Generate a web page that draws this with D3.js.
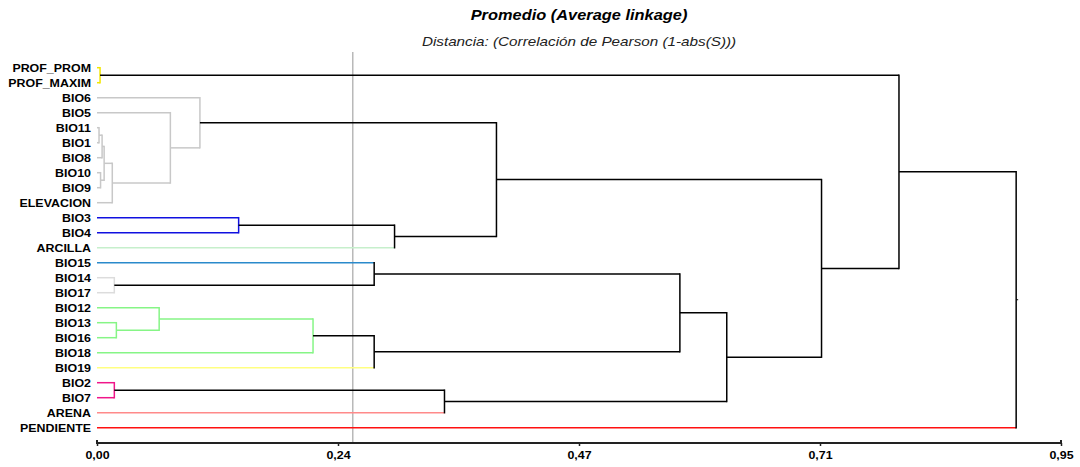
<!DOCTYPE html>
<html>
<head>
<meta charset="utf-8">
<script src="https://cdn.jsdelivr.net/npm/d3@7"></script>
<style>
  html, body { margin: 0; padding: 0; background: #fff; }
  svg { display: block; }
  text { font-family: "Liberation Sans", Arial, sans-serif; fill: #000; }
</style>
</head>
<body>
<svg id="chart" width="1080" height="467"></svg>
<script>
// Variables (leaves) in dendrogram order, top to bottom
const leaves = [
  "PROF_PROM", "PROF_MAXIM", "BIO6", "BIO5", "BIO11", "BIO1", "BIO8", "BIO10",
  "BIO9", "ELEVACION", "BIO3", "BIO4", "ARCILLA", "BIO15", "BIO14", "BIO17",
  "BIO12", "BIO13", "BIO16", "BIO18", "BIO19", "BIO2", "BIO7", "ARENA", "PENDIENTE"
];

// Agglomeration steps: [child A, child B, distance]; ids >= leaves.length are earlier steps
const mergeA = [4, 0, 7, 25, 28, 29, 14, 21, 17, 16, 3, 2, 10, 34, 13, 38, 37, 32, 36, 39, 44, 43, 26, 47];
const mergeB = [5, 1, 8, 6, 27, 9, 15, 22, 18, 33, 30, 35, 11, 19, 31, 20, 12, 23, 41, 40, 42, 45, 46, 24];
const mergeHeight = [0.002, 0.003, 0.0035, 0.005, 0.007, 0.015, 0.017, 0.017, 0.019, 0.061,
  0.072, 0.101, 0.139, 0.212, 0.272, 0.272, 0.292, 0.341, 0.392, 0.572, 0.618, 0.711, 0.787, 0.902];

// Colour of the group each leaf falls into below the cut level
const leafColors = [
  "#f2e600", "#f2e600", "#c8c8c8", "#c8c8c8", "#c8c8c8", "#c8c8c8", "#c8c8c8", "#c8c8c8",
  "#c8c8c8", "#c8c8c8", "#1010e0", "#1010e0", "#c6efcc", "#2a8acb", "#dcdcdc", "#dcdcdc",
  "#86f586", "#86f586", "#86f586", "#86f586", "#ffff80", "#f0168a", "#f0168a", "#ff8a8a", "#ff1010"
];

const cutLevel = 0.251;
const tickValues = [0, 0.2365, 0.473, 0.7095, 0.946];
const tickLabels = ["0,00", "0,24", "0,47", "0,71", "0,95"];

const titleText = "Promedio (Average linkage)";
const subtitleText = "Distancia: (Correlación de Pearson (1-abs(S)))";

// ---- layout
const svg = d3.select("#chart");
const TEXT_STRETCH = 1.13;

const x = d3.scaleLinear().domain([0, 0.946]).range([97, 1061]);
const y = d3.scalePoint().domain(d3.range(leaves.length)).range([67.7, 427.7]);

// Build node table: leaves first, then merges
const nodes = leaves.map((name, i) => ({ id: i, y: y(i), h: 0, leafs: [i] }));
mergeA.forEach((a, k) => {
  const A = nodes[a], B = nodes[mergeB[k]];
  nodes.push({ id: nodes.length, a: A, b: B, h: mergeHeight[k],
    y: (A.y + B.y) / 2, leafs: A.leafs.concat(B.leafs) });
});

function nodeColor(n) {
  return n.h < cutLevel ? leafColors[n.leafs[0]] : "#000";
}

const g = svg.append("g");

// cut line
g.append("line")
  .attr("x1", x(cutLevel)).attr("x2", x(cutLevel))
  .attr("y1", 52).attr("y2", 442)
  .attr("stroke", "#b4b4b4").attr("stroke-width", 1.4);

// horizontal segments from each child up to its parent, and the parent's vertical bracket
nodes.slice(leaves.length).forEach(n => {
  const col = nodeColor(n);
  [n.a, n.b].forEach(c => {
    // a single variable keeps its own colour; a joined group takes the parent's
    const segCol = (c.h === 0 && n.h >= cutLevel) ? leafColors[c.id] : col;
    g.append("line")
      .attr("x1", x(c.h)).attr("x2", x(n.h))
      .attr("y1", c.y).attr("y2", c.y)
      .attr("stroke", segCol)
      .attr("stroke-width", 1.5);
  });
  g.append("line")
    .attr("x1", x(n.h)).attr("x2", x(n.h))
    .attr("y1", n.a.y).attr("y2", n.b.y)
    .attr("stroke", col).attr("stroke-width", 1.5)
    .attr("stroke-linecap", "square");
});

// root stub
const root = nodes[nodes.length - 1];
g.append("line")
  .attr("x1", x(root.h)).attr("x2", x(root.h) + 2)
  .attr("y1", root.y).attr("y2", root.y)
  .attr("stroke", "#000").attr("stroke-width", 1);

// leaf labels
g.selectAll("text.leaf").data(leaves).join("text")
  .attr("class", "leaf")
  .attr("transform", (d, i) => `translate(91,${y(i) + 4}) scale(${TEXT_STRETCH},1)`)
  .attr("text-anchor", "end")
  .style("font-size", "11px").style("font-weight", "bold")
  .text(d => d);

// x axis
const axis = d3.axisBottom(x).tickValues(tickValues).tickSize(3)
  .tickFormat((d, i) => tickLabels[i]);
const ax = svg.append("g").attr("transform", "translate(0,443)").call(axis);
ax.select(".domain").attr("stroke", "#222").attr("stroke-width", 2)
  .attr("d", `M${x(0)},-3V0H${x(0.946)}V-3`);
ax.selectAll(".tick line").attr("stroke", "#222").attr("stroke-width", 1.5);
ax.selectAll(".tick text")
  .attr("y", 16).attr("dy", 0)
  .attr("transform", `scale(${TEXT_STRETCH},1)`)
  .attr("x", 0)
  .style("font-size", "11px").style("font-weight", "bold")
  .style("font-family", "'Liberation Sans', Arial, sans-serif")
  .attr("fill", "#000");

// titles
const cx = (x(0) + x(0.946)) / 2;
svg.append("text")
  .attr("transform", `translate(${cx},20) scale(${TEXT_STRETCH},1)`)
  .attr("text-anchor", "middle")
  .style("font-size", "14.5px").style("font-weight", "bold").style("font-style", "italic")
  .text(titleText);
svg.append("text")
  .attr("transform", `translate(${cx},46) scale(${TEXT_STRETCH},1)`)
  .attr("text-anchor", "middle")
  .style("font-size", "13.5px").style("font-style", "italic")
  .style("fill", "#222")
  .text(subtitleText);
</script>
</body>
</html>
